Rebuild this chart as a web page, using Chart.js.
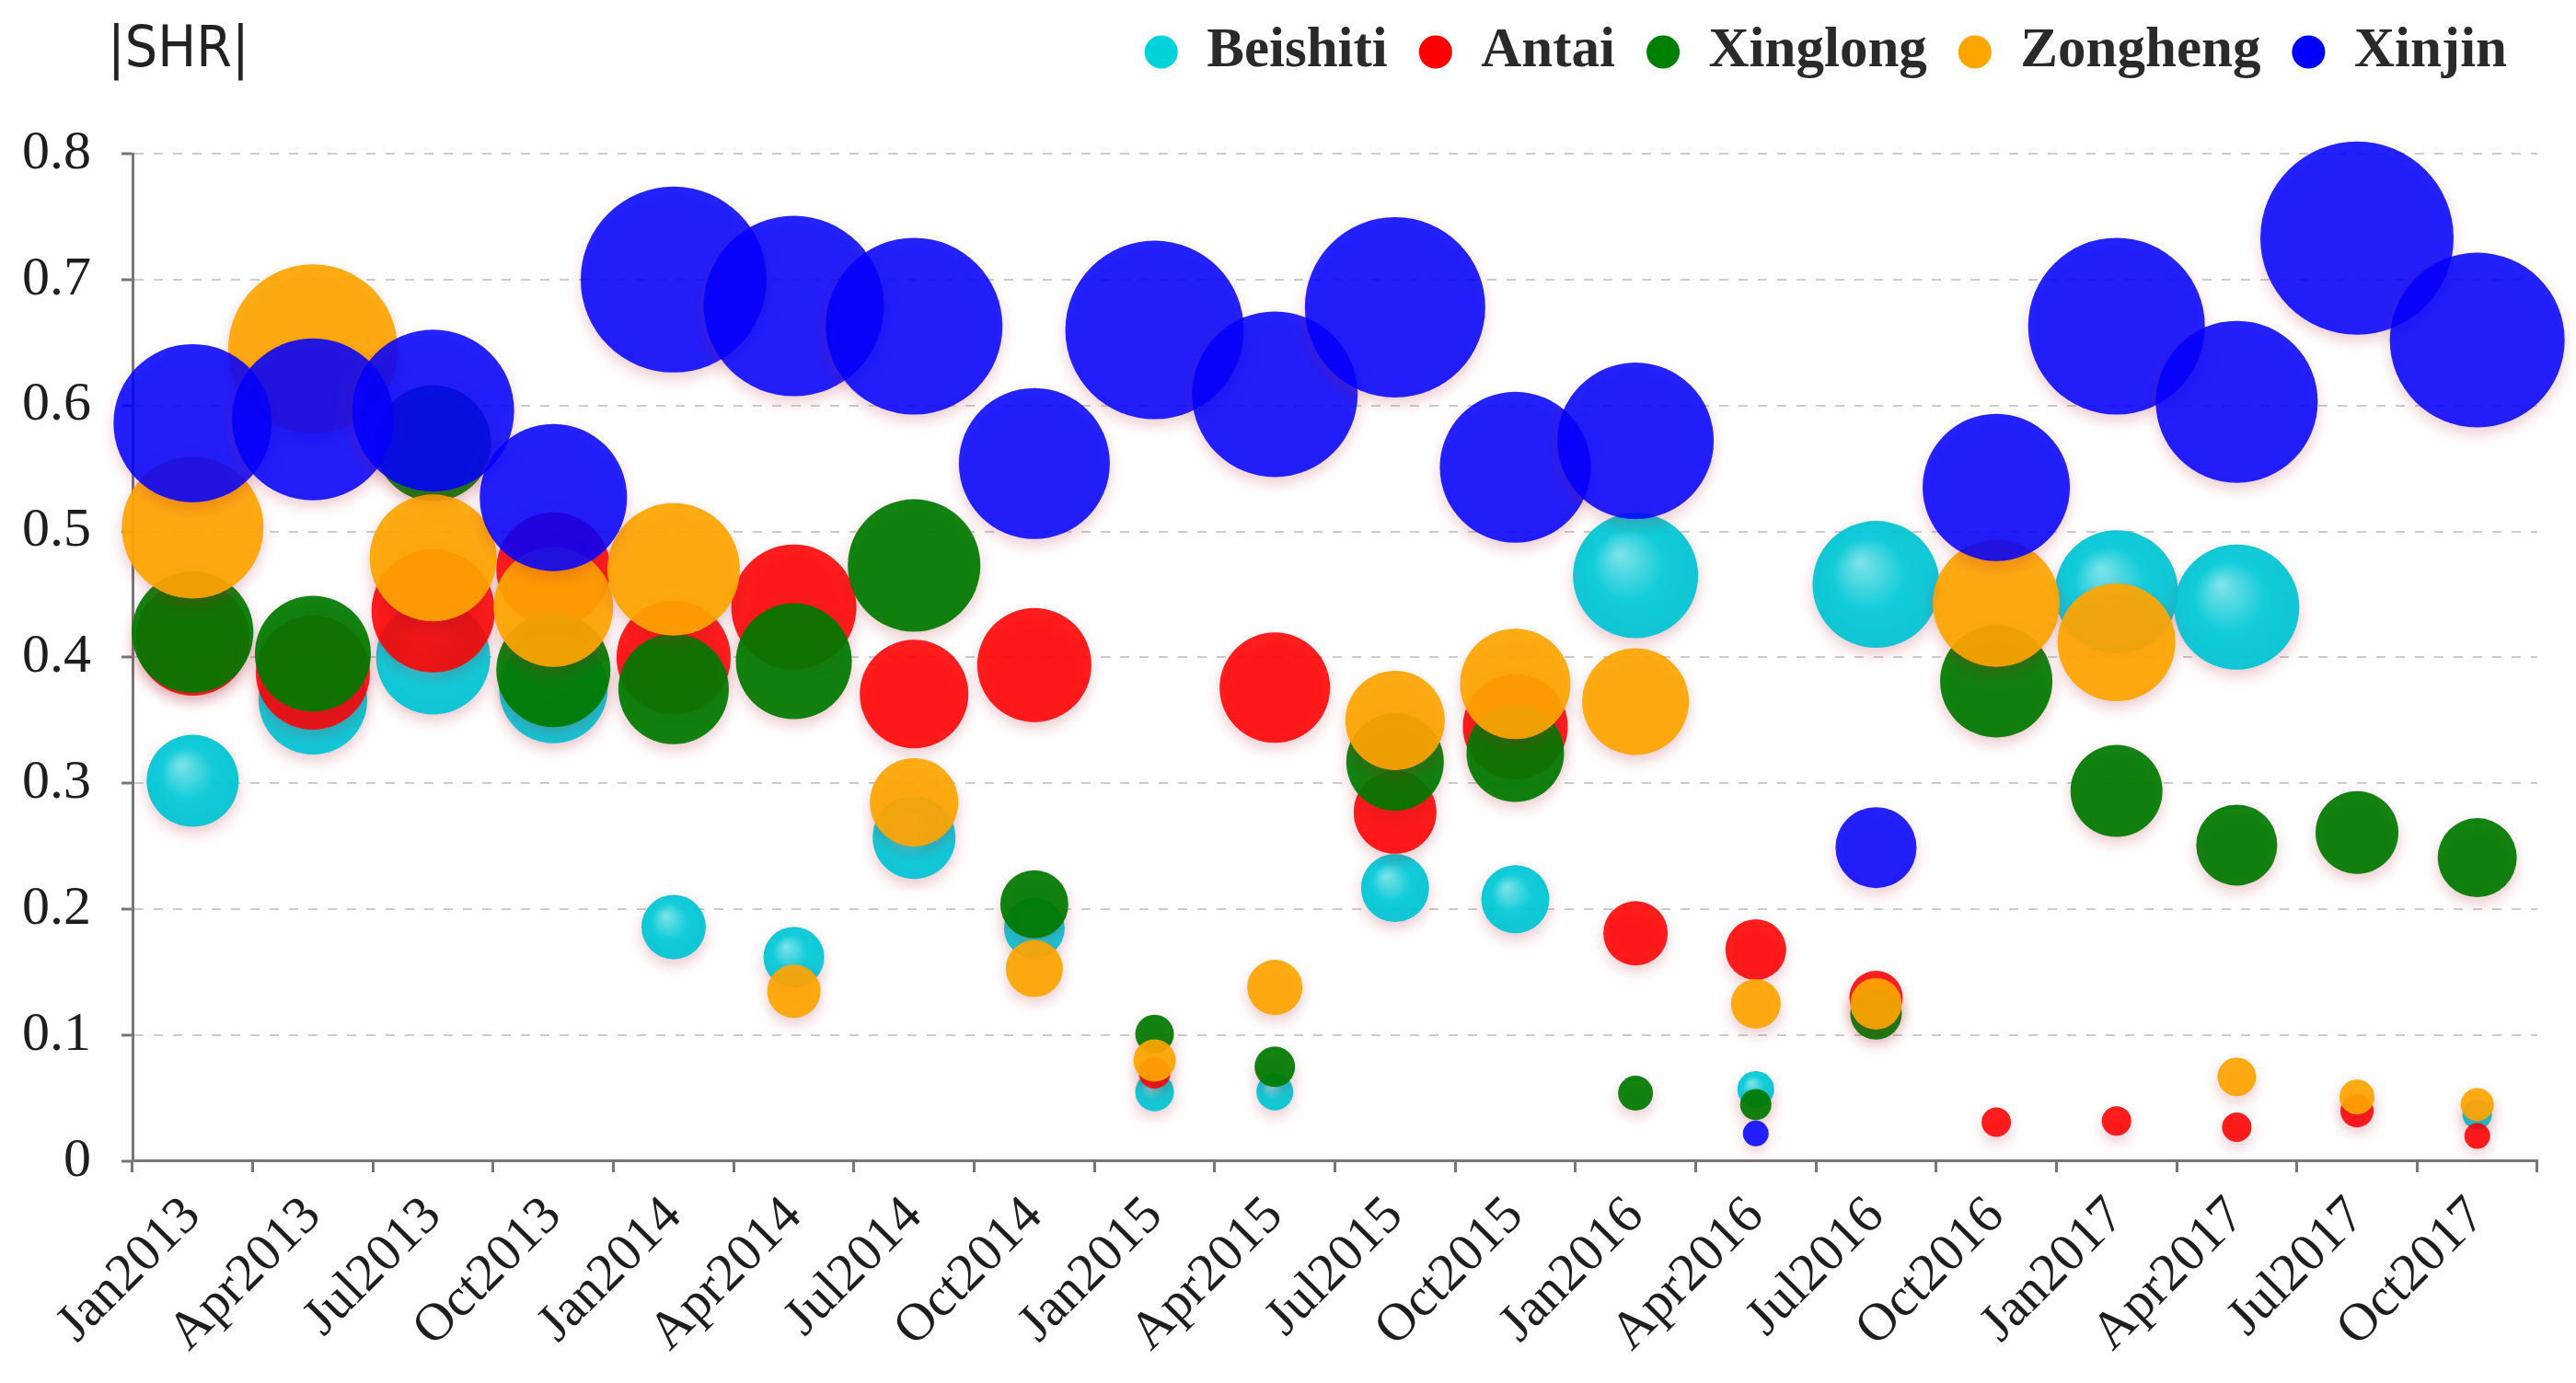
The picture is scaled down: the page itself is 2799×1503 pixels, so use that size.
<!DOCTYPE html>
<html>
<head>
<meta charset="utf-8">
<title>|SHR| by quarter</title>
<script src="https://cdn.jsdelivr.net/npm/chart.js@4/dist/chart.umd.min.js"></script>
<style>
  html, body { margin: 0; padding: 0; background: #fff; overflow: hidden; }
  #wrap { position: relative; width: 2799px; height: 1503px; }
</style>
</head>
<body>
<div id="wrap"><canvas id="shrChart"></canvas></div>
<script>
const yCaption = "|SHR|";
const quarters = ["Jan2013", "Apr2013", "Jul2013", "Oct2013", "Jan2014", "Apr2014", "Jul2014", "Oct2014",
    "Jan2015", "Apr2015", "Jul2015", "Oct2015", "Jan2016", "Apr2016", "Jul2016", "Oct2016",
    "Jan2017", "Apr2017", "Jul2017", "Oct2017"];

// |SHR| value per quarter (null = no bubble) and bubble size per quarter
const beishitiValues = [0.302, 0.366, 0.40, 0.375, 0.186, 0.162, 0.257, 0.185, 0.055, 0.055, 0.217, 0.208, 0.465, 0.057, 0.458, null, 0.452, 0.44, null, 0.037];
const beishitiSizes  = [50, 59, 62, 59, 35, 33, 45, 33, 21, 20, 37, 37, 68, 20, 69, null, 67, 68, null, 16];

const antaiValues = [0.415, 0.388, 0.437, 0.47, 0.40, 0.44, 0.371, 0.394, 0.07, 0.376, 0.277, 0.345, 0.181, 0.168, 0.13, 0.031, 0.032, 0.027, 0.040, 0.020];
const antaiSizes  = [62, 62, 67, 62, 62, 68, 59, 62, 17, 60, 45, 57, 35, 33, 29, 16, 16, 16, 18, 14];

const xinglongValues = [0.42, 0.403, 0.57, 0.39, 0.375, 0.397, 0.473, 0.204, 0.101, 0.075, 0.317, 0.324, 0.054, 0.045, 0.117, 0.381, 0.294, 0.251, 0.261, 0.241];
const xinglongSizes  = [66, 63, 63, 62, 60, 63, 72, 37, 21, 22, 53, 53, 19, 17, 28, 61, 50, 44, 45, 43];

const zonghengValues = [0.503, 0.645, 0.479, 0.44, 0.470, 0.135, 0.285, 0.153, 0.080, 0.138, 0.35, 0.379, 0.365, 0.125, 0.125, 0.443, 0.412, 0.067, 0.051, 0.045];
const zonghengSizes  = [77, 92, 69, 65, 72, 29, 48, 31, 23, 30, 54, 60, 58, 27, 28, 69, 64, 21, 19, 18];

const xinjinValues = [0.586, 0.589, 0.596, 0.527, 0.700, 0.679, 0.663, 0.554, 0.660, 0.609, 0.678, 0.551, 0.572, 0.022, 0.249, 0.535, 0.663, 0.603, 0.733, 0.652];
const xinjinSizes  = [86, 88, 88, 80, 101, 98, 96, 82, 97, 90, 98, 82, 85, 14, 44, 80, 96, 88, 105, 95];

const yTicks = [0, 0.1, 0.2, 0.3, 0.4, 0.5, 0.6, 0.7, 0.8];

function toBubbles(values, sizes) {
    let points = [];
    for (let i = 0; i < quarters.length; i++) {
        if (values[i] == null) continue;
        points.push({ x: quarters[i], y: values[i], r: sizes[i] });
    }
    return points;
}

// cyan bubbles have a soft highlight
function beishitiFill(context) {
    const plain = "rgba(0, 200, 215, 0.92)";
    const chart = context.chart;
    if (context.type !== "data" || !context.raw || !chart.scales.x) return plain;
    const raw = context.raw;
    const x = chart.scales.x.getPixelForValue(quarters.indexOf(raw.x));
    const y = chart.scales.y.getPixelForValue(raw.y);
    const r = raw.r;
    if (!Number.isFinite(x) || !Number.isFinite(y) || !Number.isFinite(r)) return plain;
    const g = chart.ctx.createRadialGradient(x - r * 0.25, y - r * 0.35, r * 0.05, x, y, r);
    g.addColorStop(0, "rgba(110, 226, 234, 0.93)");
    g.addColorStop(0.55, "rgba(0, 204, 218, 0.93)");
    g.addColorStop(1, "rgba(0, 196, 212, 0.93)");
    return g;
}

const legendColors = {
    Beishiti: "#00d2dc",
    Antai: "#ff0000",
    Xinglong: "#008000",
    Zongheng: "#ffa500",
    Xinjin: "#0000ff"
};

const bubbleShadow = {
    id: "bubbleShadow",
    beforeDatasetsDraw(chart) {
        const c = chart.ctx;
        c.save();
        c.shadowColor = "rgba(170, 20, 40, 0.25)";
        c.shadowBlur = 16;
        c.shadowOffsetY = 7;
    },
    afterDatasetsDraw(chart) {
        chart.ctx.restore();
    }
};

const legendGap = {
    id: "legendGap",
    beforeInit(chart) {
        const fit = chart.legend.fit;
        chart.legend.fit = function () {
            fit.call(this);
            this.height += 70;
        };
    }
};

const axisCaption = {
    id: "axisCaption",
    afterDraw(chart) {
        const c = chart.ctx;
        c.save();
        c.font = '62px "DejaVu Sans Condensed", "DejaVu Sans", sans-serif';
        c.fillStyle = "#222";
        c.textBaseline = "middle";
        c.textAlign = "left";
        c.fillText(yCaption, chart.chartArea.left - 27, 56);
        c.restore();
    }
};

const serif = '"Liberation Serif", "DejaVu Serif", serif';

// Xinjin first so it is drawn on top; legend is reversed
const shrChart = new Chart(document.getElementById("shrChart"), {
    type: "bubble",
    data: {
        labels: quarters,
        datasets: [
            { label: "Xinjin", data: toBubbles(xinjinValues, xinjinSizes), backgroundColor: "rgba(0, 0, 255, 0.86)" },
            { label: "Zongheng", data: toBubbles(zonghengValues, zonghengSizes), backgroundColor: "rgba(255, 165, 0, 0.92)" },
            { label: "Xinglong", data: toBubbles(xinglongValues, xinglongSizes), backgroundColor: "rgba(0, 122, 0, 0.93)" },
            { label: "Antai", data: toBubbles(antaiValues, antaiSizes), backgroundColor: "rgba(255, 0, 0, 0.88)" },
            { label: "Beishiti", data: toBubbles(beishitiValues, beishitiSizes), backgroundColor: beishitiFill }
        ].map(ds => Object.assign(ds, { borderWidth: 0, clip: false }))
    },
    options: {
        responsive: true,
        maintainAspectRatio: false,
        animation: false,
        events: [],
        layout: { autoPadding: false, padding: { top: -7, left: -9, right: 42, bottom: 6 } },
        plugins: {
            tooltip: { enabled: false },
            legend: {
                position: "top",
                align: "end",
                reverse: true,
                labels: {
                    usePointStyle: true,
                    pointStyle: "circle",
                    boxWidth: 38,
                    boxHeight: 25.5,
                    padding: 33,
                    color: "#2a2a2a",
                    font: { family: serif, size: 61, weight: "bold" },
                    generateLabels(chart) {
                        const items = Chart.defaults.plugins.legend.labels.generateLabels(chart);
                        items.forEach(item => {
                            item.fillStyle = legendColors[item.text];
                            item.strokeStyle = "rgba(0,0,0,0)";
                            item.lineWidth = 0;
                        });
                        return items;
                    }
                }
            }
        },
        scales: {
            x: {
                type: "category",
                labels: quarters,
                offset: true,
                grid: {
                    offset: true,
                    drawOnChartArea: false,
                    tickLength: 12,
                    tickColor: "#777",
                    tickWidth: 3
                },
                border: { color: "#777", width: 3 },
                ticks: {
                    autoSkip: false,
                    minRotation: 45,
                    maxRotation: 45,
                    padding: 14,
                    color: "#1e1e1e",
                    font: { family: serif, size: 58 }
                }
            },
            y: {
                min: 0,
                max: 0.8,
                afterBuildTicks(scale) {
                    scale.ticks = yTicks.map(v => ({ value: v }));
                },
                grid: {
                    color: "#cccccc",
                    lineWidth: 2,
                    tickLength: 12,
                    tickColor: "#777",
                    tickWidth: 3,
                    tickBorderDash: []
                },
                border: { color: "#777", width: 3, dash: [10, 11] },
                ticks: {
                    padding: 33,
                    color: "#1e1e1e",
                    font: { family: serif, size: 60 },
                    callback: v => String(Math.round(v * 10) / 10)
                }
            }
        }
    },
    plugins: [bubbleShadow, legendGap, axisCaption]
});
</script>
</body>
</html>
